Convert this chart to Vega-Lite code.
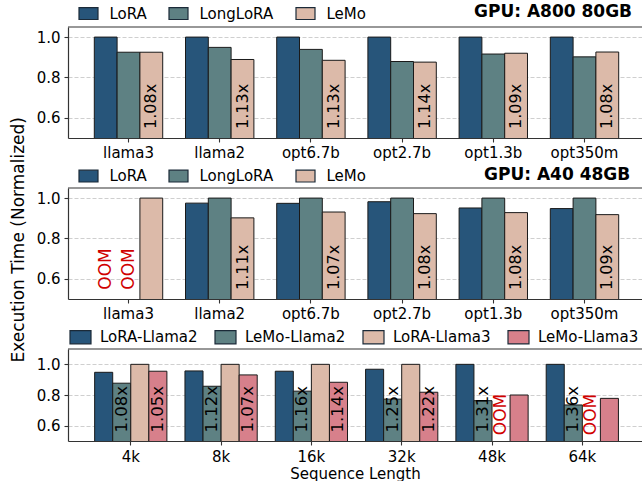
{
  "$schema": "https://vega.github.io/schema/vega-lite/v6.json",
  "padding": {"left": 9, "top": 3, "right": 0, "bottom": 0},
  "bounds": "flush",
  "spacing": 50,
  "resolve": {"scale": {"color": "independent", "xOffset": "independent", "x": "independent", "y": "independent"}, "legend": {"color": "independent"}, "axis": {"x": "independent", "y": "independent"}},
  "config": {
    "font": "DejaVu Sans",
    "view": {"stroke": null},
    "axis": {
      "domain": true, "domainColor": "#333333", "domainWidth": 1.2, "tickColor": "#333333", "tickSize": 4, "tickWidth": 1.1,
      "labelFontSize": 15, "labelColor": "#000000", "titleColor": "#000000", "titleFontWeight": "normal"
    },
    "axisX": {"labelAngle": 0, "labelPadding": 3, "grid": false},
    "axisY": {"labelPadding": 4, "grid": true, "gridColor": "#cfcfcf", "gridDash": [4, 2], "gridWidth": 1},
    "legend": {"labelColor": "#000000", "labelFontSize": 15, "padding": 0, "titleColor": "#000000", "titleFontSize": 17, "titleFontWeight": "bold", "titleOrient": "right", "titleBaseline": "middle", "titleLimit": 400}
  },
  "datasets": {
    "a800": [
      {"model": "llama3", "method": "LoRA", "time": 1.0},
      {"model": "llama3", "method": "LongLoRA", "time": 0.925},
      {"model": "llama3", "method": "LeMo", "time": 0.925, "note": "1.08x"},
      {"model": "llama2", "method": "LoRA", "time": 1.0},
      {"model": "llama2", "method": "LongLoRA", "time": 0.949},
      {"model": "llama2", "method": "LeMo", "time": 0.889, "note": "1.13x"},
      {"model": "opt6.7b", "method": "LoRA", "time": 1.0},
      {"model": "opt6.7b", "method": "LongLoRA", "time": 0.939},
      {"model": "opt6.7b", "method": "LeMo", "time": 0.885, "note": "1.13x"},
      {"model": "opt2.7b", "method": "LoRA", "time": 1.0},
      {"model": "opt2.7b", "method": "LongLoRA", "time": 0.879},
      {"model": "opt2.7b", "method": "LeMo", "time": 0.876, "note": "1.14x"},
      {"model": "opt1.3b", "method": "LoRA", "time": 1.0},
      {"model": "opt1.3b", "method": "LongLoRA", "time": 0.916},
      {"model": "opt1.3b", "method": "LeMo", "time": 0.920, "note": "1.09x"},
      {"model": "opt350m", "method": "LoRA", "time": 1.0},
      {"model": "opt350m", "method": "LongLoRA", "time": 0.902},
      {"model": "opt350m", "method": "LeMo", "time": 0.926, "note": "1.08x"}
    ],
    "a40": [
      {"model": "llama3", "method": "LoRA", "time": null, "note": "OOM"},
      {"model": "llama3", "method": "LongLoRA", "time": null, "note": "OOM"},
      {"model": "llama3", "method": "LeMo", "time": 1.0},
      {"model": "llama2", "method": "LoRA", "time": 0.975},
      {"model": "llama2", "method": "LongLoRA", "time": 1.0},
      {"model": "llama2", "method": "LeMo", "time": 0.902, "note": "1.11x"},
      {"model": "opt6.7b", "method": "LoRA", "time": 0.974},
      {"model": "opt6.7b", "method": "LongLoRA", "time": 1.0},
      {"model": "opt6.7b", "method": "LeMo", "time": 0.931, "note": "1.07x"},
      {"model": "opt2.7b", "method": "LoRA", "time": 0.982},
      {"model": "opt2.7b", "method": "LongLoRA", "time": 1.0},
      {"model": "opt2.7b", "method": "LeMo", "time": 0.923, "note": "1.08x"},
      {"model": "opt1.3b", "method": "LoRA", "time": 0.951},
      {"model": "opt1.3b", "method": "LongLoRA", "time": 1.0},
      {"model": "opt1.3b", "method": "LeMo", "time": 0.928, "note": "1.08x"},
      {"model": "opt350m", "method": "LoRA", "time": 0.948},
      {"model": "opt350m", "method": "LongLoRA", "time": 1.0},
      {"model": "opt350m", "method": "LeMo", "time": 0.918, "note": "1.09x"}
    ],
    "seq": [
      {"length": "4k", "series": "LoRA-Llama2", "time": 0.948},
      {"length": "4k", "series": "LeMo-Llama2", "time": 0.877, "note": "1.08x"},
      {"length": "4k", "series": "LoRA-Llama3", "time": 1.0},
      {"length": "4k", "series": "LeMo-Llama3", "time": 0.955, "note": "1.05x"},
      {"length": "8k", "series": "LoRA-Llama2", "time": 0.957},
      {"length": "8k", "series": "LeMo-Llama2", "time": 0.857, "note": "1.12x"},
      {"length": "8k", "series": "LoRA-Llama3", "time": 1.0},
      {"length": "8k", "series": "LeMo-Llama3", "time": 0.931, "note": "1.07x"},
      {"length": "16k", "series": "LoRA-Llama2", "time": 0.955},
      {"length": "16k", "series": "LeMo-Llama2", "time": 0.825, "note": "1.16x"},
      {"length": "16k", "series": "LoRA-Llama3", "time": 1.0},
      {"length": "16k", "series": "LeMo-Llama3", "time": 0.883, "note": "1.14x"},
      {"length": "32k", "series": "LoRA-Llama2", "time": 0.968},
      {"length": "32k", "series": "LeMo-Llama2", "time": 0.773, "note": "1.25x"},
      {"length": "32k", "series": "LoRA-Llama3", "time": 1.0},
      {"length": "32k", "series": "LeMo-Llama3", "time": 0.818, "note": "1.22x"},
      {"length": "48k", "series": "LoRA-Llama2", "time": 1.0},
      {"length": "48k", "series": "LeMo-Llama2", "time": 0.763, "note": "1.31x"},
      {"length": "48k", "series": "LoRA-Llama3", "time": null, "note": "OOM"},
      {"length": "48k", "series": "LeMo-Llama3", "time": 0.800},
      {"length": "64k", "series": "LoRA-Llama2", "time": 1.0},
      {"length": "64k", "series": "LeMo-Llama2", "time": 0.735, "note": "1.36x"},
      {"length": "64k", "series": "LoRA-Llama3", "time": null, "note": "OOM"},
      {"length": "64k", "series": "LeMo-Llama3", "time": 0.778}
    ]
  },
  "vconcat": [
    {
      "width": 574, "height": 111,
      "data": {"name": "a800"},
      "layer": [
        {
          "mark": {"type": "bar", "clip": true, "stroke": "#1a1a1a", "strokeWidth": 1},
          "encoding": {
            "x": {"field": "model", "type": "nominal", "scale": {"domain": ["llama3", "llama2", "opt6.7b", "opt2.7b", "opt1.3b", "opt350m"], "paddingInner": 0, "paddingOuter": 0.147, "align": 0.556}, "axis": {"title": null}},
            "xOffset": {"field": "method", "type": "nominal", "scale": {"domain": ["LoRA", "LongLoRA", "LeMo"], "paddingInner": 0, "paddingOuter": 0.5}},
            "y": {"field": "time", "type": "quantitative", "scale": {"domain": [0.5, 1.05], "zero": false, "nice": false}, "axis": {"values": [0.6, 0.8, 1.0], "format": ".1f", "title": null}},
            "color": {"field": "method", "type": "nominal", "scale": {"domain": ["LoRA", "LongLoRA", "LeMo"], "range": ["#27557a", "#5e8183", "#dcbaa9"]},
              "legend": {"orient": "none", "legendX": 10, "legendY": -24, "direction": "horizontal", "columns": 3, "title": "GPU: A800 80GB", "titlePadding": 108, "symbolType": "M-1,-0.62H1V0.62H-1Z", "symbolSize": 361, "symbolStrokeColor": "#1b2a38", "symbolStrokeWidth": 1.2, "symbolOpacity": 1, "labelOffset": 10.5, "columnPadding": 19, "labelLimit": 300,
                "encode": {"symbols": {"update": {"stroke": {"value": "#1b2a38"}, "strokeWidth": {"value": 1.2}}}}}}
          }
        },
        {
          "transform": [{"filter": "datum.note && datum.note != 'OOM'"}],
          "mark": {"type": "text", "angle": 270, "align": "left", "baseline": "middle", "fontSize": 16, "color": "#000000"},
          "encoding": {
            "x": {"field": "model", "type": "nominal", "axis": {"title": null}},
            "xOffset": {"field": "method", "type": "nominal"},
            "y": {"datum": 0.545},
            "text": {"field": "note"}
          }
        },
        {
          "data": {"values": [{}]},
          "mark": {"type": "rule", "color": "#333333", "strokeWidth": 1.2},
          "encoding": {"y": {"datum": 1.05}}
        }
      ]
    },
    {
      "width": 574, "height": 111,
      "data": {"name": "a40"},
      "layer": [
        {
          "mark": {"type": "bar", "clip": true, "stroke": "#1a1a1a", "strokeWidth": 1},
          "encoding": {
            "x": {"field": "model", "type": "nominal", "scale": {"domain": ["llama3", "llama2", "opt6.7b", "opt2.7b", "opt1.3b", "opt350m"], "paddingInner": 0, "paddingOuter": 0.147, "align": 0.556}, "axis": {"title": null}},
            "xOffset": {"field": "method", "type": "nominal", "scale": {"domain": ["LoRA", "LongLoRA", "LeMo"], "paddingInner": 0, "paddingOuter": 0.5}},
            "y": {"field": "time", "type": "quantitative", "scale": {"domain": [0.5, 1.05], "zero": false, "nice": false},
              "axis": {"values": [0.6, 0.8, 1.0], "format": ".1f", "title": "Execution Time (Normalized)", "titleFontSize": 17, "titleX": -44.5, "titleY": 51.3, "titleBaseline": "alphabetic", "titleAngle": 270, "titleAlign": "center"}},
            "color": {"field": "method", "type": "nominal", "scale": {"domain": ["LoRA", "LongLoRA", "LeMo"], "range": ["#27557a", "#5e8183", "#dcbaa9"]},
              "legend": {"orient": "none", "legendX": 10, "legendY": -22.5, "direction": "horizontal", "columns": 3, "title": "GPU: A40 48GB", "titlePadding": 118, "symbolType": "M-1,-0.62H1V0.62H-1Z", "symbolSize": 361, "symbolStrokeColor": "#1b2a38", "symbolStrokeWidth": 1.2, "symbolOpacity": 1, "labelOffset": 10.5, "columnPadding": 19, "labelLimit": 300,
                "encode": {"symbols": {"update": {"stroke": {"value": "#1b2a38"}, "strokeWidth": {"value": 1.2}}}}}}
          }
        },
        {
          "transform": [{"filter": "datum.note && datum.note != 'OOM'"}],
          "mark": {"type": "text", "angle": 270, "align": "left", "baseline": "middle", "fontSize": 16, "color": "#000000"},
          "encoding": {
            "x": {"field": "model", "type": "nominal", "axis": {"title": null}},
            "xOffset": {"field": "method", "type": "nominal"},
            "y": {"datum": 0.545},
            "text": {"field": "note"}
          }
        },
        {
          "transform": [{"filter": "datum.note == 'OOM'"}],
          "mark": {"type": "text", "angle": 270, "align": "left", "baseline": "middle", "fontSize": 17, "color": "#d00000"},
          "encoding": {
            "x": {"field": "model", "type": "nominal", "axis": {"title": null}},
            "xOffset": {"field": "method", "type": "nominal"},
            "y": {"datum": 0.546},
            "text": {"field": "note"}
          }
        },
        {
          "data": {"values": [{}]},
          "mark": {"type": "rule", "color": "#333333", "strokeWidth": 1.2},
          "encoding": {"y": {"datum": 1.05}}
        }
      ]
    },
    {
      "width": 574, "height": 92,
      "data": {"name": "seq"},
      "layer": [
        {
          "mark": {"type": "bar", "clip": true, "stroke": "#1a1a1a", "strokeWidth": 1},
          "encoding": {
            "x": {"field": "length", "type": "nominal", "scale": {"domain": ["4k", "8k", "16k", "32k", "48k", "64k"], "paddingInner": 0, "paddingOuter": 0.178, "align": 0.548},
              "axis": {"title": "Sequence Length", "titleFontSize": 15, "titleBaseline": "alphabetic", "titleY": 37, "labelPadding": 4}},
            "xOffset": {"field": "series", "type": "nominal", "scale": {"domain": ["LoRA-Llama2", "LeMo-Llama2", "LoRA-Llama3", "LeMo-Llama3"], "paddingInner": 0, "paddingOuter": 0.5}},
            "y": {"field": "time", "type": "quantitative", "scale": {"domain": [0.5, 1.1], "zero": false, "nice": false}, "axis": {"values": [0.6, 0.8, 1.0], "format": ".1f", "title": null}},
            "color": {"field": "series", "type": "nominal", "scale": {"domain": ["LoRA-Llama2", "LeMo-Llama2", "LoRA-Llama3", "LeMo-Llama3"], "range": ["#27557a", "#5e8183", "#dcbaa9", "#d7808b"]},
              "legend": {"orient": "none", "legendX": 1, "legendY": -23.5, "direction": "horizontal", "columns": 4, "title": null, "symbolType": "M-1,-0.63H1V0.63H-1Z", "symbolSize": 441, "symbolStrokeColor": "#1b2a38", "symbolStrokeWidth": 1.2, "symbolOpacity": 1, "labelOffset": 8, "columnPadding": 14, "labelLimit": 300,
                "encode": {"symbols": {"update": {"stroke": {"value": "#1b2a38"}, "strokeWidth": {"value": 1.2}}}}}}
          }
        },
        {
          "transform": [{"filter": "datum.note && datum.note != 'OOM'"}],
          "mark": {"type": "text", "angle": 270, "align": "left", "baseline": "middle", "fontSize": 16.5, "color": "#000000"},
          "encoding": {
            "x": {"field": "length", "type": "nominal", "axis": {"title": "Sequence Length", "titleFontSize": 15, "titleBaseline": "alphabetic", "titleY": 37, "labelPadding": 4}},
            "xOffset": {"field": "series", "type": "nominal"},
            "y": {"datum": 0.556},
            "text": {"field": "note"}
          }
        },
        {
          "transform": [{"filter": "datum.note == 'OOM'"}],
          "mark": {"type": "text", "angle": 270, "align": "left", "baseline": "middle", "fontSize": 17, "color": "#d00000"},
          "encoding": {
            "x": {"field": "length", "type": "nominal", "axis": {"title": "Sequence Length", "titleFontSize": 15, "titleBaseline": "alphabetic", "titleY": 37, "labelPadding": 4}},
            "xOffset": {"field": "series", "type": "nominal"},
            "y": {"datum": 0.538},
            "text": {"field": "note"}
          }
        },
        {
          "data": {"values": [{}]},
          "mark": {"type": "rule", "color": "#333333", "strokeWidth": 1.2},
          "encoding": {"y": {"datum": 1.1}}
        }
      ]
    }
  ]
}
